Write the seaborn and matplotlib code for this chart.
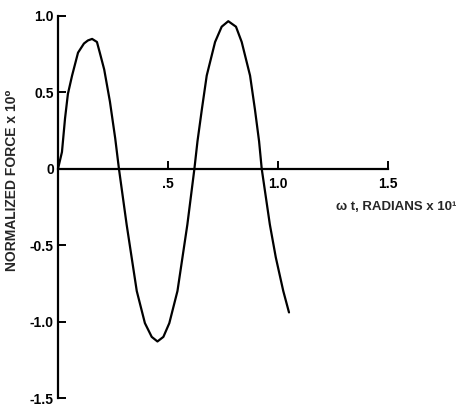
import matplotlib
matplotlib.use("Agg")
import matplotlib.pyplot as plt
import seaborn as sns
import pandas as pd

# Normalized force history against omega*t (radians x 10^1)
omega_t = [0.0, 0.018, 0.032, 0.045, 0.064, 0.091, 0.118, 0.136, 0.155, 0.177,
           0.19, 0.21, 0.236, 0.26, 0.277, 0.312, 0.358, 0.395, 0.426, 0.452,
           0.479, 0.506, 0.543, 0.588, 0.62, 0.634, 0.654, 0.676, 0.714, 0.744,
           0.774, 0.809, 0.835, 0.873, 0.895, 0.914, 0.926, 0.963, 0.99, 1.024,
           1.05]
force = [0.0, 0.11, 0.33, 0.49, 0.61, 0.76, 0.82, 0.84, 0.85, 0.83,
         0.76, 0.65, 0.44, 0.20, 0.0, -0.365, -0.80, -1.01, -1.10, -1.13,
         -1.10, -1.01, -0.80, -0.365, 0.0, 0.18, 0.39, 0.61, 0.83, 0.93,
         0.966, 0.93, 0.83, 0.61, 0.39, 0.18, 0.0, -0.365, -0.58, -0.80,
         -0.94]

x_ticks = [0.5, 1.0, 1.5]
x_tick_labels = [".5", "1.0", "1.5"]
y_ticks = [1.0, 0.5, 0.0, -0.5, -1.0, -1.5]
y_tick_labels = ["1.0", "0.5", "0", "-0.5", "-1.0", "-1.5"]

sns.set_style("white")
plt.rcParams["font.family"] = ["Liberation Sans", "DejaVu Sans"]
plt.rcParams["font.weight"] = "bold"

df = pd.DataFrame({"wt": omega_t, "F": force})

fig = plt.figure(figsize=(4.58, 4.07), dpi=100)
ax = fig.add_axes([58 / 458, 9 / 407, 330 / 458, 382 / 407])

sns.lineplot(data=df, x="wt", y="F", sort=False, estimator=None,
             color="black", linewidth=1.6, ax=ax)
for ln in ax.lines:
    ln.set_solid_joinstyle("round")
    ln.set_solid_capstyle("round")

ax.set_xlim(0, 1.5)
ax.set_ylim(-1.5, 1.0)

for side in ("top", "right"):
    ax.spines[side].set_visible(False)
ax.spines["bottom"].set_position(("data", 0))
for side in ("left", "bottom"):
    ax.spines[side].set_linewidth(1.6)
    ax.spines[side].set_color("black")

ax.set_xticks(x_ticks)
ax.set_xticklabels(x_tick_labels, fontsize=10, fontweight="bold")
ax.set_yticks(y_ticks)
ax.set_yticklabels(y_tick_labels, fontsize=10, fontweight="bold")
ax.tick_params(axis="x", bottom=True, direction="in", length=6, width=1.4,
               pad=6, colors="black")
ax.tick_params(axis="y", left=True, direction="in", length=6, width=1.4,
               pad=3, colors="black")

ax.set_xlabel("")
ax.set_ylabel("")
fig.text(12 / 458, 1 - 180 / 407, "NORMALIZED FORCE x 10\u2070",
         rotation=90, ha="center", va="center", fontsize=10,
         fontweight="bold")
fig.text(456 / 458, 1 - 207 / 407, "\u03c9 t, RADIANS x 10\u00b9",
         ha="right", va="center", fontsize=9.5, fontweight="bold")

fig.savefig("out.png", dpi=100, facecolor="white")
